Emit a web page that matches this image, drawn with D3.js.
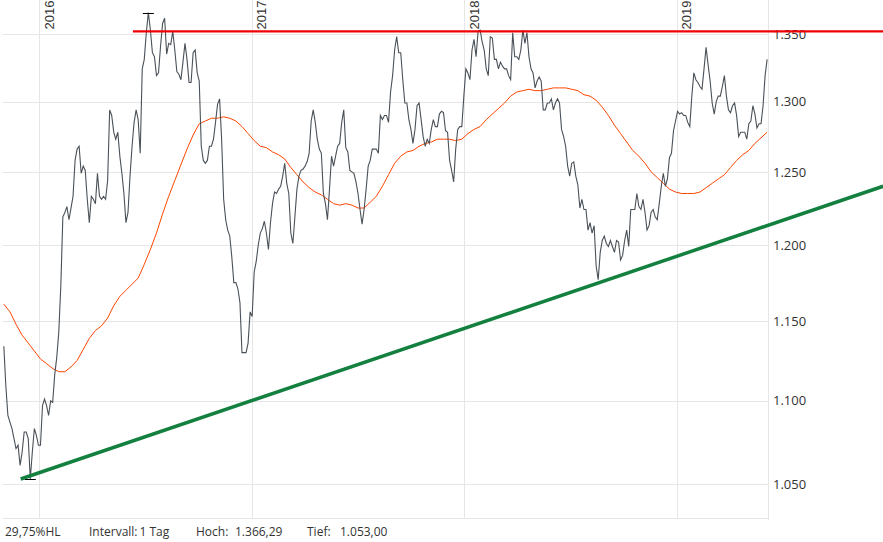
<!DOCTYPE html>
<html><head><meta charset="utf-8">
<script src="https://cdn.jsdelivr.net/npm/d3@7"></script>
<style>html,body{margin:0;padding:0;background:#fff;}svg{display:block;}</style>
</head><body>
<svg id="chart" width="883" height="542"></svg>
<script>
// ---- data ----
const priceStartDate = "2015-11-01";
const priceStepDays = 3.5;
const priceValues = [
1.134,1.109,1.091,1.087,1.083,1.077,1.071,1.073,1.061,1.069,
1.081,1.081,1.077,1.053,1.069,1.083,1.079,1.073,1.073,1.097,
1.101,1.097,1.091,1.100,1.099,1.116,1.127,1.143,1.173,1.219,
1.222,1.226,1.217,1.225,1.233,1.258,1.266,1.268,1.249,1.254,
1.251,1.231,1.215,1.233,1.231,1.228,1.249,1.233,1.231,1.233,
1.231,1.244,1.294,1.290,1.278,1.273,1.278,1.261,1.249,1.235,
1.215,1.222,1.247,1.268,1.285,1.294,1.287,1.263,1.324,1.331,
1.351,1.36629,1.353,1.336,1.333,1.319,1.321,1.341,1.358,1.362,
1.335,1.343,1.342,1.352,1.338,1.322,1.320,1.316,1.329,1.343,
1.331,1.314,1.314,1.336,1.338,1.321,1.315,1.268,1.258,1.256,
1.258,1.268,1.268,1.273,1.285,1.298,1.302,1.273,1.231,1.217,
1.210,1.206,1.192,1.175,1.175,1.171,1.162,1.130,1.130,1.130,
1.136,1.156,1.153,1.182,1.189,1.200,1.208,1.211,1.216,1.208,
1.197,1.215,1.228,1.236,1.235,1.238,1.240,1.247,1.256,1.242,
1.235,1.208,1.201,1.219,1.238,1.247,1.251,1.252,1.254,1.257,
1.263,1.286,1.294,1.285,1.273,1.266,1.263,1.235,1.228,1.217,
1.238,1.261,1.254,1.261,1.268,1.270,1.285,1.294,1.267,1.264,
1.251,1.250,1.249,1.243,1.235,1.224,1.214,1.224,1.238,1.254,
1.258,1.266,1.266,1.266,1.263,1.290,1.287,1.290,1.290,1.285,
1.307,1.319,1.338,1.348,1.336,1.336,1.316,1.299,1.299,1.287,
1.280,1.270,1.280,1.297,1.299,1.287,1.275,1.268,1.273,1.270,
1.280,1.287,1.282,1.282,1.291,1.293,1.292,1.279,1.278,1.258,
1.251,1.243,1.266,1.280,1.282,1.282,1.304,1.324,1.321,1.316,
1.338,1.346,1.333,1.352,1.353,1.344,1.338,1.324,1.319,1.348,
1.347,1.331,1.331,1.324,1.329,1.326,1.324,1.324,1.319,1.316,
1.351,1.333,1.333,1.331,1.338,1.353,1.343,1.351,1.333,1.324,
1.321,1.310,1.315,1.318,1.315,1.294,1.294,1.299,1.299,1.302,
1.294,1.299,1.302,1.299,1.280,1.275,1.268,1.254,1.247,1.256,
1.257,1.247,1.241,1.225,1.231,1.224,1.224,1.210,1.215,1.208,
1.213,1.186,1.177,1.195,1.203,1.206,1.201,1.199,1.203,1.199,
1.195,1.203,1.202,1.190,1.193,1.203,1.210,1.199,1.224,1.224,
1.224,1.235,1.226,1.224,1.231,1.222,1.210,1.213,1.222,1.224,
1.219,1.217,1.228,1.240,1.249,1.240,1.245,1.260,1.263,1.279,
1.286,1.293,1.291,1.292,1.290,1.290,1.285,1.282,1.304,1.321,
1.316,1.314,1.311,1.309,1.324,1.340,1.327,1.315,1.299,1.291,
1.300,1.304,1.304,1.311,1.319,1.304,1.294,1.292,1.297,1.299,
1.290,1.275,1.278,1.278,1.278,1.273,1.284,1.286,1.297,1.291,
1.281,1.284,1.284,1.297,1.319,1.331
];
const maStartDate = "2015-11-01";
const maStepDays = 10.5;
const maValues = [
1.161,1.156,1.148,1.141,1.136,1.131,1.126,1.123,1.120,1.118,
1.118,1.121,1.125,1.132,1.139,1.144,1.147,1.152,1.160,1.166,
1.170,1.174,1.178,1.187,1.197,1.208,1.221,1.233,1.244,1.255,
1.266,1.276,1.284,1.286,1.288,1.288,1.289,1.288,1.286,1.282,
1.277,1.272,1.268,1.267,1.264,1.262,1.259,1.253,1.248,1.243,
1.239,1.236,1.234,1.231,1.228,1.227,1.228,1.227,1.225,1.225,
1.229,1.233,1.240,1.248,1.256,1.261,1.264,1.265,1.268,1.270,
1.271,1.273,1.273,1.273,1.272,1.273,1.277,1.280,1.282,1.287,
1.291,1.295,1.299,1.304,1.307,1.308,1.309,1.308,1.308,1.309,
1.310,1.310,1.310,1.309,1.308,1.305,1.304,1.301,1.296,1.290,
1.283,1.277,1.271,1.265,1.261,1.256,1.250,1.246,1.242,1.238,
1.236,1.235,1.235,1.235,1.236,1.239,1.242,1.245,1.248,1.253,
1.258,1.262,1.265,1.270,1.274,1.278
];
const yearTicks = ["2016-01-01","2017-01-01","2018-01-01","2019-01-01"];
const yearLabels = ["2016","2017","2018","2019"];
const yTickValues = [1.05,1.10,1.15,1.20,1.25,1.30,1.35];
const resistanceDates = ["2016-06-10","2019-12-22"];
const resistanceValues = [1.352,1.352];
const supportDates = ["2015-11-30","2019-12-22"];
const supportValues = [1.053,1.240];
const intervalLabel = "Intervall:";
const intervalValue = "1 Tag";
const highLabel = "Hoch:";
const lowLabel = "Tief:";

// ---- build ----
const parse = d3.utcParse("%Y-%m-%d");
const DAY = 86400000;
const p0 = parse(priceStartDate).getTime();
const prices = priceValues.map((v,i)=>({date:new Date(p0 + i*priceStepDays*DAY), value:v}));
const m0 = parse(maStartDate).getTime();
const ma = maValues.map((v,i)=>({date:new Date(m0 + i*maStepDays*DAY), value:v}));

const W = 883, H = 542;
const plotRight = 768, plotBottom = 518, plotLeft = 3;
const x = d3.scaleUtc().domain([parse("2016-01-01"), parse("2019-01-01")]).range([39.3, 676.7]);
const y = d3.scaleLog().domain([1.0303, 1.3759]).range([plotBottom, 0]);

const svg = d3.select("#chart");
svg.append("rect").attr("width",W).attr("height",H).attr("fill","#fff");

const gridColor = "#e6e6e6";
// horizontal grid + right labels
const yAxis = d3.axisRight(y).tickValues(yTickValues).tickFormat(d3.format(".3f"))
  .tickSize(-(plotRight-plotLeft)).tickPadding(5);
const gy = svg.append("g").attr("transform",`translate(${plotRight},0)`).call(yAxis);
gy.select(".domain").remove();
gy.selectAll(".tick line").attr("stroke",gridColor).attr("shape-rendering","crispEdges");
gy.selectAll(".tick text").attr("fill","#333").style("font-family","'Open Sans', 'Noto Sans', sans-serif").style("font-size","13px");

// vertical year grid
const xAxis = d3.axisTop(x).tickValues(yearTicks.map(parse)).tickSize(-plotBottom).tickFormat("");
const gx = svg.append("g").call(xAxis);
gx.select(".domain").remove();
gx.selectAll(".tick line").attr("stroke",gridColor).attr("shape-rendering","crispEdges");

// frame lines
svg.append("line").attr("x1",plotRight+0.5).attr("x2",plotRight+0.5).attr("y1",0).attr("y2",plotBottom+2)
  .attr("stroke",gridColor);
svg.append("line").attr("x1",plotLeft).attr("x2",plotRight).attr("y1",plotBottom+0.5).attr("y2",plotBottom+0.5)
  .attr("stroke",gridColor);

// year labels
yearTicks.forEach((d,i)=>{
  svg.append("text")
    .attr("transform",`translate(${x(parse(d))+14.3},29.5) rotate(-90)`)
    .attr("text-anchor","start")
    .attr("fill","#333")
    .style("font-family","'Liberation Sans', Arial, sans-serif")
    .style("font-size","13px")
    .text(yearLabels[i]);
});

const line = d3.line().x(d=>x(d.date)).y(d=>y(d.value));

// moving average
svg.append("path").datum(ma).attr("d",line).attr("fill","none")
  .attr("stroke","#ff4500").attr("stroke-width",1);

// price
svg.append("path").datum(prices).attr("d",line).attr("fill","none")
  .attr("stroke","#4a5158").attr("stroke-width",1.1).attr("stroke-linejoin","miter");

// support trend line
const support = supportDates.map((d,i)=>({date:parse(d), value:supportValues[i]}));
svg.append("path").datum(support).attr("d",line).attr("fill","none")
  .attr("stroke","#13803f").attr("stroke-width",3.5);

// resistance line
const resistance = resistanceDates.map((d,i)=>({date:parse(d), value:resistanceValues[i]}));
svg.append("path").datum(resistance).attr("d",line).attr("fill","none")
  .attr("stroke","#f00000").attr("stroke-width",2.4);

// high / low markers
const hi = prices.reduce((a,b)=>b.value>a.value?b:a);
const lo = prices.reduce((a,b)=>b.value<a.value?b:a);
[hi,lo].forEach(p=>{
  svg.append("line").attr("x1",x(p.date)-5.5).attr("x2",x(p.date)+5.5)
    .attr("y1",Math.round(y(p.value))+0.5).attr("y2",Math.round(y(p.value))+0.5)
    .attr("stroke","#000").attr("stroke-width",1);
});

// info texts
const de = d3.formatLocale({decimal:",", thousands:".", grouping:[3], currency:["","€"]});
const f2 = de.format(",.2f");
const hlPct = (hi.value - lo.value)/lo.value*100;
const info = [
  {x:5, t: f2(hlPct) + "%HL"},
  {x:89, t: intervalLabel},
  {x:139.5, t: intervalValue},
  {x:196, t: highLabel},
  {x:235, t: f2(hi.value*1000)},
  {x:307, t: lowLabel},
  {x:340, t: f2(lo.value*1000)}
];
svg.selectAll("text.info").data(info).enter().append("text").attr("class","info")
  .attr("x",d=>d.x).attr("y",536)
  .attr("fill","#333")
  .style("font-family","'Open Sans', 'Noto Sans', sans-serif").style("font-size","12px")
  .text(d=>d.t);
</script>
</body></html>
